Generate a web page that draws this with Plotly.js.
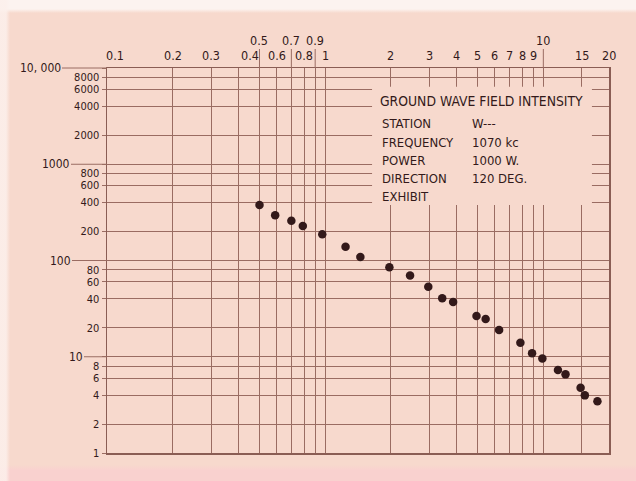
<!DOCTYPE html>
<html><head><meta charset="utf-8">
<script src="https://cdn.plot.ly/plotly-3.0.1.min.js"></script>
<style>
html,body{margin:0;padding:0;}
body{width:636px;height:481px;overflow:hidden;background:linear-gradient(to right,rgba(252,240,236,0.85) 0px,rgba(252,240,236,0.85) 6px,rgba(252,240,236,0) 10px),linear-gradient(to bottom,#fcf3f0 0px,#fcf3f0 9px,#f7d9cd 13px,#f7d9cd 465px,#f9d1cf 470px,#f9d1cf 481px);}
#chart{width:636px;height:481px;}
</style></head><body><div id="chart"></div>
<script>
// Distance (miles) and field intensity (mV/m)
const distanceMiles = [0.5, 0.59, 0.7, 0.79, 0.97, 1.24, 1.45, 1.97, 2.45, 2.97, 3.44, 3.86, 4.94, 5.44, 6.27, 7.85, 8.88, 9.9, 11.67, 12.64, 14.82, 15.5, 17.7];
const fieldIntensity = [377, 295, 259, 228, 187, 139, 109, 85, 70, 53.5, 40.5, 37, 26.5, 24.7, 19.0, 14.0, 10.9, 9.6, 7.28, 6.56, 4.77, 3.97, 3.44];

const xTickVals = [0.1, 0.2, 0.3, 0.4, 0.5, 0.6, 0.7, 0.8, 0.9, 1, 2, 3, 4, 5, 6, 7, 8, 9, 10, 15, 20];
const xTickLabels = ['0.1', '0.2', '0.3', '0.4', '0.5', '0.6', '0.7', '0.8', '0.9', '1', '2', '3', '4', '5', '6', '7', '8', '9', '10', '15', '20'];
const xUpperRowLabels = ['0.5', '0.7', '0.9', '10'];

const yTickVals = [1, 2, 4, 6, 8, 10, 20, 40, 60, 80, 100, 200, 400, 600, 800, 1000, 2000, 4000, 6000, 8000, 10000];
const yTickLabels = ['1', '2', '4', '6', '8', '10', '20', '40', '60', '80', '100', '200', '400', '600', '800', '1000', '2000', '4000', '6000', '8000', '10, 000'];
const yDecadeLabels = ['10', '100', '1000', '10, 000'];

const chartTitle = 'GROUND WAVE FIELD INTENSITY';
const infoLabels = ['STATION', 'FREQUENCY', 'POWER', 'DIRECTION', 'EXHIBIT'];
const infoValues = ['W---', '1070 kc', '1000 W.', '120 DEG.', ''];

const FONT = '"DejaVu Sans Condensed", "Liberation Sans Narrow", "DejaVu Sans", sans-serif';
const INK = '#33191a';
const GRID = '#9a6c62';
const BG = '#f7d9cd';

const xNudge = {'0.1': 8, '0.4': 12};
const decadeLine = {'10': 23, '100': 35, '1000': 36, '10, 000': 45};

const annotations = [];
xTickVals.forEach((v, i) => {
  const lab = xTickLabels[i];
  const upper = xUpperRowLabels.includes(lab);
  if (upper) {
    annotations.push({x: Math.log10(v), xref: 'x', y: 1, yref: 'paper', text: lab,
      showarrow: true, arrowhead: 0, arrowwidth: 1, arrowcolor: GRID, ax: 0, ay: -28,
      font: {family: FONT, size: 12.5, color: INK}});
  } else {
    annotations.push({x: Math.log10(v), xref: 'x', y: 1, yref: 'paper', text: lab,
      showarrow: false, yanchor: 'bottom', yshift: 3, xshift: xNudge[lab] || 0,
      font: {family: FONT, size: 12.5, color: INK}});
  }
});
yTickVals.forEach((v, i) => {
  const lab = yTickLabels[i];
  if (yDecadeLabels.includes(lab)) {
    annotations.push({x: 0, xref: 'paper', y: Math.log10(v), yref: 'y', text: lab,
      showarrow: true, arrowhead: 0, arrowwidth: 1, arrowcolor: GRID,
      ax: -decadeLine[lab], ay: 0, xanchor: 'right', borderpad: 0,
      font: {family: FONT, size: 12, color: INK}});
  }
});
annotations.push({x: 0.54, xref: 'paper', y: 0.915, yref: 'paper', text: chartTitle,
  showarrow: false, xanchor: 'left', yanchor: 'middle', font: {family: FONT, size: 13.8, color: INK}});
infoLabels.forEach((lab, i) => {
  const yp = 0.855 - i * 0.0475;
  annotations.push({x: 0.544, xref: 'paper', y: yp, yref: 'paper', text: lab,
    showarrow: false, xanchor: 'left', yanchor: 'middle', font: {family: FONT, size: 13, color: INK}});
  if (infoValues[i]) annotations.push({x: 0.723, xref: 'paper', y: yp, yref: 'paper', text: infoValues[i],
    showarrow: false, xanchor: 'left', yanchor: 'middle', font: {family: FONT, size: 13, color: INK}});
});

const data = [{
  type: 'scatter', mode: 'markers', x: distanceMiles, y: fieldIntensity,
  marker: {size: 8.5, color: INK}, hoverinfo: 'x+y'
}];

const layout = {
  width: 636, height: 481,
  margin: {l: 107, r: 27, t: 68, b: 28, pad: 0},
  paper_bgcolor: 'rgba(0,0,0,0)', plot_bgcolor: 'rgba(0,0,0,0)',
  showlegend: false,
  xaxis: {type: 'log', range: [-1, Math.log10(20)], tickmode: 'array', tickvals: xTickVals,
    showticklabels: false, ticks: '', showgrid: true, gridcolor: GRID, gridwidth: 1,
    showline: true, mirror: true, linecolor: '#8a5d54', linewidth: 1.5, zeroline: false},
  yaxis: {type: 'log', range: [0, 4], tickmode: 'array', tickvals: yTickVals,
    ticktext: yTickLabels.map(t => yDecadeLabels.includes(t) ? '' : t),
    ticks: 'outside', ticklen: 4, tickcolor: GRID, tickwidth: 1,
    tickfont: {family: FONT, size: 11, color: INK},
    showgrid: true, gridcolor: GRID, gridwidth: 1,
    showline: true, mirror: true, linecolor: '#8a5d54', linewidth: 1.5, zeroline: false},
  shapes: [{type: 'rect', xref: 'paper', yref: 'paper', x0: 0.528, x1: 0.966, y0: 0.644, y1: 0.951,
    fillcolor: BG, line: {width: 0}, layer: 'above'}],
  annotations: annotations
};

Plotly.newPlot('chart', data, layout, {displayModeBar: false, staticPlot: true});
</script></body></html>
